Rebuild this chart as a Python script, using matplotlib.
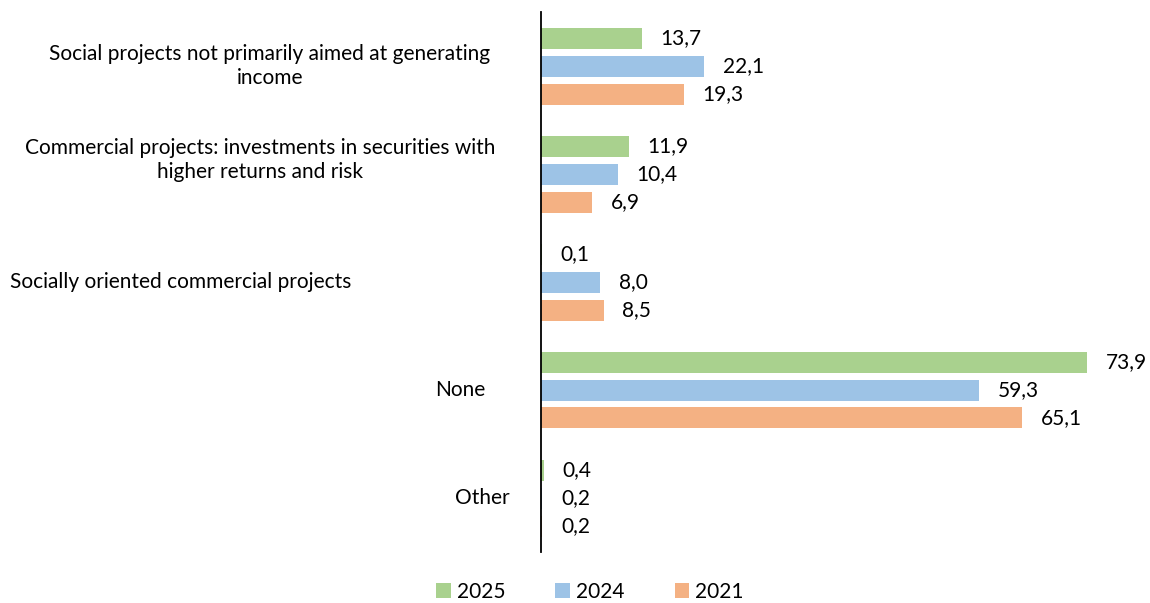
import numpy as np
import matplotlib
matplotlib.use("Agg")
from matplotlib import pyplot as plt
import matplotlib.transforms as mtransforms

plt.rcParams['font.family'] = ['Lato', 'DejaVu Sans']

categories = ["Social projects not primarily aimed at generating\nincome",
              "Commercial projects: investments in securities with\nhigher returns and risk",
              "Socially oriented commercial projects",
              "None",
              "Other"]
years = ["2025", "2024", "2021"]
v2025 = [13.7, 11.9, 0.1, 73.9, 0.4]
v2024 = [22.1, 10.4, 8.0, 59.3, 0.2]
v2021 = [19.3, 6.9, 8.5, 65.1, 0.2]
colors = ["#A9D18E", "#9DC3E6", "#F4B183"]

# label centre x in figure pixels, y offset in category units
lab_x = [270, 260, 181, 460, 482]
lab_dy = [0, -0.13, 0, 0, 0]

W, H = 1150, 603
fig = plt.figure(figsize=(W / 100, H / 100), dpi=100)
ax = fig.add_axes([541 / W, (H - 552) / H, (1110 - 541) / W, 540 / H])

y = np.arange(len(categories))
off = 28 / 108
h = 21 / 108
for k, (vals, c, yr) in enumerate(zip([v2025, v2024, v2021], colors, years)):
    pos = y + (k - 1) * off
    ax.barh(pos, vals, height=h, color=c, label=yr)
    for p, v in zip(pos, vals):
        ax.text(v + 2.5, p, f"{v:.1f}".replace('.', ','), va='center', ha='left', fontsize=15)

ax.set_xlim(0, (1110 - 541) / 7.39)
ax.set_ylim(4.5, -0.5)
ax.set_xticks([])
ax.set_yticks([])
for s in ['top', 'right', 'bottom']:
    ax.spines[s].set_visible(False)
ax.spines['left'].set_linewidth(1.3)

tr = mtransforms.blended_transform_factory(fig.transFigure, ax.transData)
for i, lab in enumerate(categories):
    ax.text(lab_x[i] / W, i + lab_dy[i], lab, transform=tr, ha='center', va='center',
            fontsize=15, linespacing=1.3)

fig.legend(loc='center', bbox_to_anchor=(590 / W, 1 - 592 / H), ncol=3, frameon=False,
           fontsize=15, handlelength=0.7, handleheight=0.7, handletextpad=0.3,
           columnspacing=2.4)

fig.savefig("out.png", dpi=100)
